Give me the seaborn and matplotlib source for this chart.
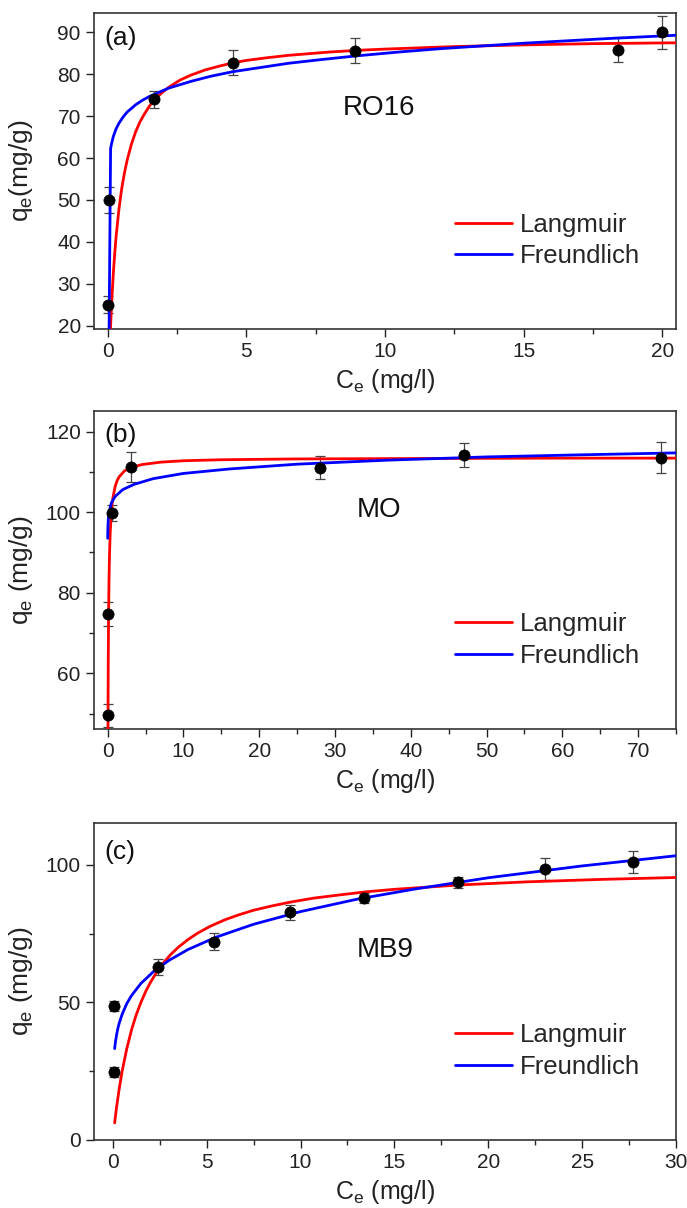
import numpy as np
import pandas as pd
import matplotlib
matplotlib.use("Agg")
import matplotlib.pyplot as plt
from matplotlib.ticker import MultipleLocator
import seaborn as sns

sns.set_theme(style="ticks")
plt.rcParams['font.family'] = ['Liberation Sans', 'DejaVu Sans']
plt.rcParams['mathtext.default'] = 'regular'

# ---------------- Panel (a) RO16 ----------------
a_ce = [0.0, 0.05, 1.65, 4.5, 8.9, 18.4, 20.0]
a_qe = [25.0, 50.0, 74.0, 82.7, 85.6, 85.9, 90.0]
a_err = [2.0, 3.0, 2.0, 3.0, 3.0, 3.0, 4.0]
a_lang_x = [0.08, 0.1, 0.12, 0.15, 0.2, 0.25, 0.3, 0.4, 0.5, 0.6, 0.7, 0.85, 1.0, 1.15, 1.3,
            1.5, 1.7, 1.95, 2.2, 2.6, 3.0, 3.5, 4.0, 4.5, 5.0, 5.7, 6.5, 8.0, 9.0, 10.0,
            12.5, 15.0, 17.5, 20.5]
a_lang_y = [16.8, 20.0, 23.0, 27.0, 32.7, 37.4, 41.4, 47.8, 52.7, 56.5, 59.6, 63.3, 66.2, 68.5, 70.3,
            72.4, 74.0, 75.6, 76.9, 78.6, 79.8, 81.0, 81.9, 82.7, 83.3, 83.9, 84.5, 85.3, 85.7, 86.0,
            86.6, 87.0, 87.3, 87.5]
a_freu_x = [0.04, 0.1, 0.13, 0.2, 0.3, 0.4, 0.55, 0.7, 1.0, 1.25, 1.5, 2.2, 3.0, 3.7, 4.5,
            5.5, 6.5, 7.7, 9.0, 10.5, 12.0, 15.0, 18.0, 20.5]
a_freu_y = [15.0, 62.2, 63.3, 65.2, 67.0, 68.3, 69.8, 71.0, 72.7, 73.8, 74.7, 76.7, 78.3, 79.5, 80.6,
            81.6, 82.6, 83.5, 84.4, 85.3, 86.1, 87.4, 88.5, 89.3]

# ---------------- Panel (b) MO ----------------
b_ce = [0.05, 0.05, 0.55, 3.05, 28.0, 47.0, 73.0]
b_qe = [49.6, 74.7, 99.8, 111.2, 111.0, 114.2, 113.5]
b_err = [2.9, 2.9, 2.0, 3.8, 2.9, 2.9, 3.8]
b_lang_x = [0.03, 0.05, 0.08, 0.12, 0.18, 0.25, 0.35, 0.5, 0.6, 0.7, 1.0, 1.25, 1.5, 2.2, 3.0, 4.5,
            7.0, 10.0, 15.0, 25.0, 40.0, 60.0, 75.0]
b_lang_y = [35.2, 48.6, 61.9, 73.0, 82.8, 89.6, 95.3, 100.1, 102.2, 103.6, 106.4, 107.8, 108.7, 110.2,
            111.0, 111.8, 112.4, 112.75, 113.0, 113.2, 113.3, 113.4, 113.4]
b_freu_x = [0.01, 0.03, 0.08, 0.2, 0.5, 1.0, 2.0, 3.5, 6.0, 10.0, 16.0, 25.0, 37.0, 50.0, 62.0, 75.0]
b_freu_y = [93.5, 95.8, 98.0, 100.1, 102.3, 103.9, 105.6, 106.9, 108.3, 109.6, 110.7, 111.9, 112.9,
            113.7, 114.2, 114.7]

# ---------------- Panel (c) MB9 ----------------
c_ce = [0.05, 0.05, 2.4, 5.4, 9.45, 13.4, 18.4, 23.0, 27.7]
c_qe = [48.8, 24.6, 63.0, 72.1, 82.8, 88.1, 93.7, 98.5, 101.2]
c_err = [1.8, 1.8, 2.9, 3.2, 2.7, 1.8, 2.0, 3.9, 4.0]
c_lang_x = [0.1, 0.2, 0.35, 0.5, 0.75, 1.0, 1.25, 1.5, 1.75, 2.0, 2.35, 2.7, 3.1, 3.5, 4.0,
            4.5, 5.2, 6.0, 6.7, 7.5, 8.5, 9.5, 10.7, 12.0, 13.5, 15.0, 18.5, 22.0, 26.0, 30.0]
c_lang_y = [6.2, 11.8, 18.9, 25.0, 33.3, 40.0, 45.5, 50.0, 53.9, 57.2, 61.1, 64.4, 67.5, 70.1, 72.8,
            75.1, 77.7, 80.1, 81.8, 83.5, 85.1, 86.5, 87.9, 89.0, 90.2, 91.1, 92.7, 93.8, 94.7, 95.4]
c_freu_x = [0.1, 0.14, 0.2, 0.27, 0.35, 0.5, 0.75, 1.0, 1.5, 2.2, 3.0, 4.0, 5.5, 7.5, 10.0,
            13.0, 16.0, 20.0, 25.0, 30.0]
c_freu_y = [33.2, 35.5, 38.1, 40.5, 42.6, 45.7, 49.6, 52.5, 56.9, 61.4, 65.3, 69.2, 73.7, 78.4, 83.0,
            87.5, 91.1, 95.3, 99.6, 103.3]

panels = [
    dict(ce=a_ce, qe=a_qe, err=a_err, lx=a_lang_x, ly=a_lang_y, fx=a_freu_x, fy=a_freu_y,
         tag="(a)", name="RO16", ylabel="q$_e$(mg/g)", xlim=(-0.5, 20.5), ylim=(19.2, 94.6),
         xmaj=5, xmin=2.5, ymaj=10, ymin=None, name_pos=(0.49, 0.70), tag_y=0.92,
         rect=[0.1368, 0.7276, 0.8472, 0.2616]),
    dict(ce=b_ce, qe=b_qe, err=b_err, lx=b_lang_x, ly=b_lang_y, fx=b_freu_x, fy=b_freu_y,
         tag="(b)", name="MO", ylabel="q$_e$ (mg/g)", xlim=(-1.8, 75), ylim=(46.2, 125.1),
         xmaj=10, xmin=5, ymaj=20, ymin=10, name_pos=(0.49, 0.69), tag_y=0.925,
         rect=[0.1368, 0.3965, 0.8472, 0.2633]),
    dict(ce=c_ce, qe=c_qe, err=c_err, lx=c_lang_x, ly=c_lang_y, fx=c_freu_x, fy=c_freu_y,
         tag="(c)", name="MB9", ylabel="q$_e$ (mg/g)", xlim=(-1.0, 30), ylim=(0, 115.2),
         xmaj=5, xmin=2.5, ymaj=50, ymin=25, name_pos=(0.50, 0.60), tag_y=0.91,
         rect=[0.1368, 0.0563, 0.8472, 0.2624]),
]

fig = plt.figure(figsize=(6.87, 12.08), dpi=100)

for p in panels:
    ax = fig.add_axes(p["rect"])
    fits = pd.concat([
        pd.DataFrame({"Ce": p["lx"], "qe": p["ly"], "model": "Langmuir"}),
        pd.DataFrame({"Ce": p["fx"], "qe": p["fy"], "model": "Freundlich"}),
    ], ignore_index=True)
    sns.lineplot(data=fits, x="Ce", y="qe", hue="model", sort=False, estimator=None,
                 palette={"Langmuir": "#ff0000", "Freundlich": "#0000ff"},
                 linewidth=2.0, ax=ax, zorder=3)
    ax.errorbar(p["ce"], p["qe"], yerr=p["err"], fmt="none", ecolor="#444444",
                elinewidth=0.9, capsize=3.5, capthick=0.9, zorder=2)
    sns.scatterplot(x=p["ce"], y=p["qe"], color="black", s=65, edgecolor="black",
                    linewidth=0.5, ax=ax, zorder=4, legend=False)

    ax.set_xlim(*p["xlim"])
    ax.set_ylim(*p["ylim"])
    ax.xaxis.set_major_locator(MultipleLocator(p["xmaj"]))
    ax.xaxis.set_minor_locator(MultipleLocator(p["xmin"]))
    ax.yaxis.set_major_locator(MultipleLocator(p["ymaj"]))
    if p["ymin"]:
        ax.yaxis.set_minor_locator(MultipleLocator(p["ymin"]))
    ax.tick_params(axis="both", which="major", direction="out", length=6, width=1.0,
                   labelsize=15, colors="#222222", top=False, right=False)
    ax.tick_params(axis="both", which="minor", direction="out", length=3.5, width=1.0,
                   top=False, right=False)
    for s in ax.spines.values():
        s.set_color("#333333")
        s.set_linewidth(1.2)

    ax.set_xlabel("C$_e$ (mg/l)", fontsize=18, color="#222222", labelpad=4)
    ax.set_ylabel(p["ylabel"], fontsize=19, color="#222222")
    ax.yaxis.set_label_coords(-0.102, 0.5)

    ax.text(0.017, p["tag_y"], p["tag"], transform=ax.transAxes, fontsize=19,
            ha="left", va="center", color="#111111")
    ax.text(p["name_pos"][0], p["name_pos"][1], p["name"], transform=ax.transAxes,
            fontsize=20, ha="center", va="center", color="#111111")

    handles, labels = ax.get_legend_handles_labels()
    order = [labels.index("Langmuir"), labels.index("Freundlich")]
    ax.legend([handles[i] for i in order], [labels[i] for i in order],
              loc="center left", bbox_to_anchor=(0.58, 0.28), frameon=False,
              fontsize=18.5, handlelength=2.25, handletextpad=0.3, labelspacing=0.3)

fig.savefig("out.png", dpi=100)
